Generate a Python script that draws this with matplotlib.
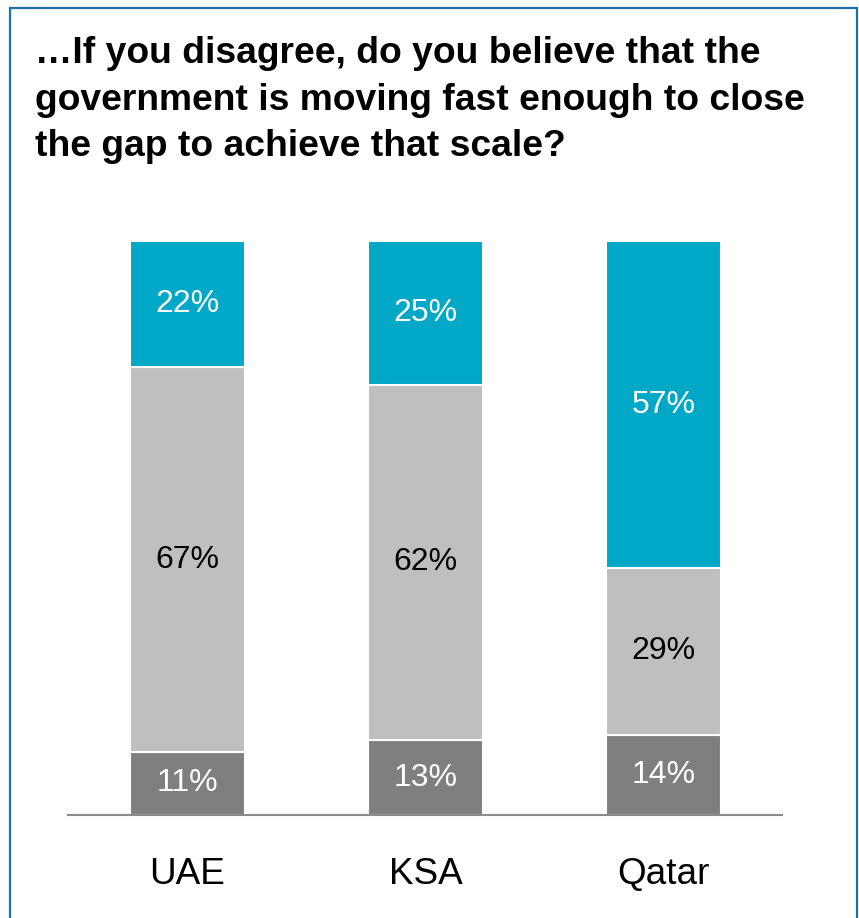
import matplotlib
matplotlib.use("Agg")
import matplotlib.pyplot as plt
from matplotlib.patches import Rectangle
import numpy as np

plt.rcParams["font.family"] = ["Liberation Sans", "DejaVu Sans"]

countries = ["UAE", "KSA", "Qatar"]
bottom_pct = [11, 13, 14]   # dark grey
middle_pct = [67, 62, 29]   # light grey
top_pct = [22, 25, 57]      # teal

C_DARK = "#7f7f7f"; C_LIGHT = "#bfbfbf"; C_TEAL = "#00a8c8"; C_FRAME = "#1f6fae"

W, H = 859, 918
fig = plt.figure(figsize=(W / 100, H / 100), dpi=100)

# frame around the panel
fig.add_artist(Rectangle((10 / W, -0.05), 847 / W, 1.05 - 8 / H, transform=fig.transFigure,
                         fill=False, edgecolor=C_FRAME, lw=1.6))

fig.text(35 / W, 1 - 36 / H,
         "…If you disagree, do you believe that the\ngovernment is moving fast enough to close\nthe gap to achieve that scale?",
         ha="left", va="top", fontsize=26.8, fontweight="bold", color="black", linespacing=1.43)

ax = fig.add_axes([68 / W, (H - 815) / H, 714 / W, 574 / H])
x = np.arange(len(countries))
bw = 0.483
b1 = np.array(bottom_pct); b2 = np.array(middle_pct); b3 = np.array(top_pct)
ax.bar(x, b1, bw, color=C_DARK, edgecolor="white", lw=1.5)
ax.bar(x, b2, bw, bottom=b1, color=C_LIGHT, edgecolor="white", lw=1.5)
ax.bar(x, b3, bw, bottom=b1 + b2, color=C_TEAL, edgecolor="white", lw=1.5)

fs = 23
for i in range(len(countries)):
    ax.text(x[i], b1[i] / 2, f"{b1[i]}%", ha="center", va="center", fontsize=fs, color="white")
    ax.text(x[i], b1[i] + b2[i] / 2, f"{b2[i]}%", ha="center", va="center", fontsize=fs, color="black")
    ax.text(x[i], b1[i] + b2[i] + b3[i] / 2, f"{b3[i]}%", ha="center", va="center", fontsize=fs, color="white")

ax.set_xlim(-0.502, 2.498)
ax.set_ylim(0, 100)
ax.set_xticks(x)
ax.set_xticklabels(countries, fontsize=26.6)
ax.tick_params(axis="x", length=0, pad=30)
ax.set_yticks([])
for s in ("top", "right", "left"):
    ax.spines[s].set_visible(False)
ax.spines["bottom"].set_color("#8c8c8c")
ax.spines["bottom"].set_linewidth(1.5)

fig.savefig("out.png", dpi=100)
